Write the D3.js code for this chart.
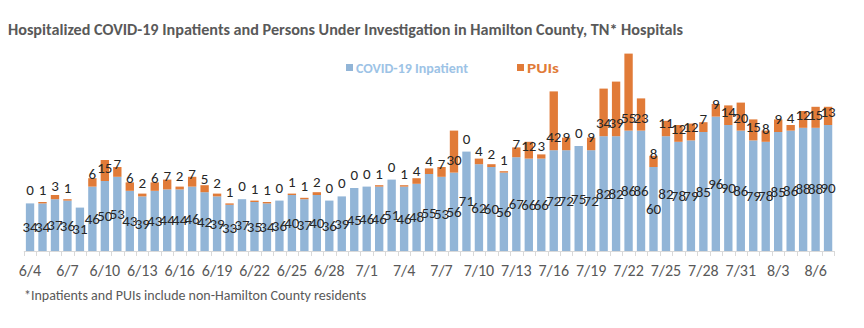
<!DOCTYPE html>
<html>
<head>
<meta charset="utf-8">
<script src="https://cdn.jsdelivr.net/npm/d3@7"></script>
<style>
  body { margin: 0; background: #fff; }
  text { font-family: Carlito, "Open Sans", sans-serif; }
</style>
</head>
<body>
<div id="main"></div>
<script>
// Chart size
var svgWidth = 864;
var svgHeight = 328;

// Dates shown on the x axis, one bar per day
var dates = ['6/4','6/5','6/6','6/7','6/8','6/9','6/10','6/11','6/12','6/13','6/14','6/15','6/16','6/17','6/18','6/19','6/20','6/21','6/22','6/23','6/24','6/25','6/26','6/27','6/28','6/29','6/30',
  '7/1','7/2','7/3','7/4','7/5','7/6','7/7','7/8','7/9','7/10','7/11','7/12','7/13','7/14','7/15','7/16','7/17','7/18','7/19','7/20','7/21','7/22','7/23','7/24','7/25','7/26','7/27','7/28','7/29','7/30','7/31',
  '8/1','8/2','8/3','8/4','8/5','8/6','8/7'];

// COVID-19 inpatients
var inpatients = [34,34,37,36,31,46,50,53,43,39,43,44,44,46,42,39,33,37,35,34,36,40,37,40,36,39,45,
  46,46,51,46,48,55,53,56,71,62,60,56,67,66,66,72,72,75,72,82,82,86,86,60,82,78,79,85,96,90,86,
  79,78,85,86,88,88,90];

// Persons under investigation (null = not reported)
var puis = [0,1,3,1,null,6,15,7,6,2,6,7,2,7,5,2,1,0,1,1,0,1,1,2,0,0,0,
  0,1,0,1,4,4,7,30,0,4,2,1,7,12,3,42,9,0,9,34,39,55,23,8,11,12,12,7,9,14,20,
  15,8,9,4,12,15,13];

// Tick labels every third day
var tickLabels = dates.filter(function(d, i) { return i % 3 === 0; });

var blue = '#92b5d7';
var orange = '#e17b38';

var rows = dates.map(function(d, i) {
  return {date: d, inp: inpatients[i], pui: puis[i]};
});

var svg = d3.select('#main')
  .append('svg')
  .attr('width', svgWidth)
  .attr('height', svgHeight);

var xScale = d3.scaleBand()
  .domain(dates)
  .range([23.8, 834.3])
  .paddingInner(0.33)
  .paddingOuter(0.165);

var yScale = d3.scaleLinear()
  .domain([0, 150])
  .range([251, 41]);

// Title
svg.append('text')
  .attr('x', 8)
  .attr('y', 35)
  .attr('textLength', 675)
  .attr('lengthAdjust', 'spacingAndGlyphs')
  .style('font-size', '15px')
  .style('font-weight', 'bold')
  .style('fill', '#595959')
  .text('Hospitalized COVID-19 Inpatients and Persons Under Investigation in Hamilton County, TN* Hospitals');

// Legend
var legend = [
  {label: 'COVID-19 Inpatient', color: blue, x: 346, w: 112, tc: '#9dc3e6'},
  {label: 'PUIs', color: orange, x: 517, w: 32, tc: orange}
];
var legendG = svg.selectAll('.legend')
  .data(legend)
  .enter()
  .append('g')
  .attr('class', 'legend');
legendG.append('rect')
  .attr('x', function(d) { return d.x; })
  .attr('y', 64)
  .attr('width', 7)
  .attr('height', 7)
  .attr('fill', function(d) { return d.color; });
legendG.append('text')
  .attr('x', function(d) { return d.x + 10; })
  .attr('y', 73)
  .attr('textLength', function(d) { return d.w; })
  .attr('lengthAdjust', 'spacingAndGlyphs')
  .style('font-size', '14px')
  .style('font-weight', '600')
  .style('fill', function(d) { return d.tc; })
  .text(function(d) { return d.label; });

// Bars
var bars = svg.selectAll('.day')
  .data(rows)
  .enter()
  .append('g')
  .attr('class', 'day');

bars.append('rect')
  .attr('x', function(d) { return xScale(d.date); })
  .attr('width', xScale.bandwidth())
  .attr('y', function(d) { return yScale(d.inp); })
  .attr('height', function(d) { return yScale(0) - yScale(d.inp); })
  .attr('fill', blue);

bars.filter(function(d) { return d.pui; })
  .append('rect')
  .attr('x', function(d) { return xScale(d.date); })
  .attr('width', xScale.bandwidth())
  .attr('y', function(d) { return yScale(d.inp + d.pui); })
  .attr('height', function(d) { return yScale(d.inp) - yScale(d.inp + d.pui); })
  .attr('fill', orange);

// x axis line and category boundary ticks
svg.append('line')
  .attr('x1', xScale.range()[0])
  .attr('x2', xScale.range()[1])
  .attr('y1', yScale(0) + 0.5)
  .attr('y2', yScale(0) + 0.5)
  .attr('stroke', '#d9d9d9');

var step = xScale.step();
svg.selectAll('.btick')
  .data(dates.concat(['end']))
  .enter()
  .append('line')
  .attr('class', 'btick')
  .attr('x1', function(d, i) { return Math.round(xScale.range()[0] + i * step) + 0.5; })
  .attr('x2', function(d, i) { return Math.round(xScale.range()[0] + i * step) + 0.5; })
  .attr('y1', yScale(0))
  .attr('y2', yScale(0) + 5)
  .attr('stroke', '#d9d9d9');

var xAxis = d3.axisBottom(xScale).tickValues(tickLabels).tickSize(0).tickPadding(14);
var axisG = svg.append('g')
  .attr('transform', 'translate(0,' + yScale(0) + ')')
  .call(xAxis);
axisG.select('.domain').remove();
axisG.selectAll('text')
  .style('font-size', '16px')
  .style('fill', '#595959')
  .style('font-family', 'Carlito, "Open Sans", sans-serif');

// Data labels: inpatients in the middle of the blue segment
bars.append('text')
  .attr('x', function(d) { return xScale(d.date) + xScale.bandwidth() / 2; })
  .attr('y', function(d) { return (yScale(0) + yScale(d.inp)) / 2 + 5; })
  .attr('text-anchor', 'middle')
  .style('font-size', '15px')
  .style('fill', '#262626')
  .text(function(d) { return d.inp; });

// PUI labels just above the blue segment
bars.filter(function(d) { return d.pui !== null; })
  .append('text')
  .attr('x', function(d) { return xScale(d.date) + xScale.bandwidth() / 2; })
  .attr('y', function(d) { return yScale(d.inp) - 8; })
  .attr('text-anchor', 'middle')
  .style('font-size', '15px')
  .style('fill', '#262626')
  .text(function(d) { return d.pui; });

// Footnote
svg.append('text')
  .attr('x', 24)
  .attr('y', 300)
  .style('font-size', '14px')
  .style('fill', '#595959')
  .text('*Inpatients and PUIs include non-Hamilton County residents');
</script>
</body>
</html>
